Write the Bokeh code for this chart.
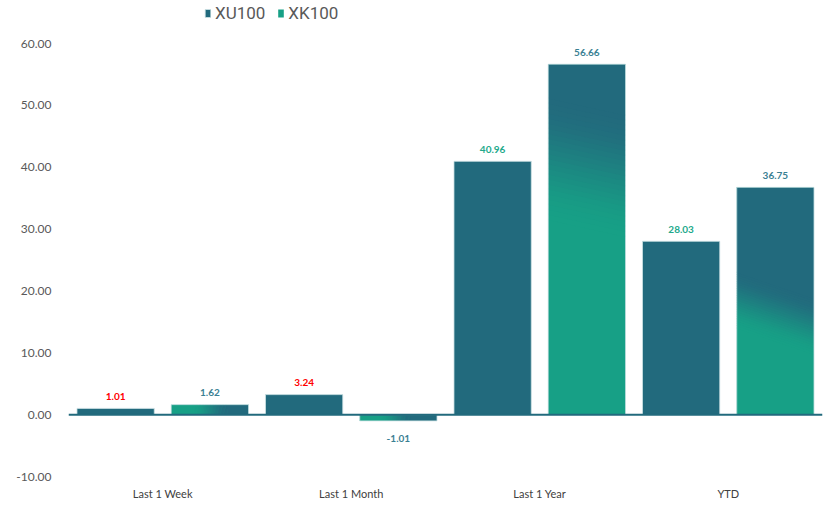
import numpy as np
from bokeh.plotting import figure
from bokeh.models import (Range1d, FixedTicker, Legend, LegendItem, Span,
                          ColumnDataSource, PrintfTickFormatter)
from bokeh.core.properties import value
from bokeh.embed import file_html
from bokeh.resources import INLINE

# ---------------- data ----------------
categories = ["Last 1 Week", "Last 1 Month", "Last 1 Year", "YTD"]
xu100 = [1.01, 3.24, 40.96, 28.03]
xk100 = [1.62, -1.01, 56.66, 36.75]
y_ticks = [-10, 0, 10, 20, 30, 40, 50, 60]
xu100_label_colors = ["#FF0000", "#FF0000", "#22A98B", "#22A98B"]
xk100_label_colors = ["#3A7F93", "#3A7F93", "#3A7F93", "#3A7F93"]

# styling: gradient start/end (fraction along bar diagonal) for XK100 bars
xk100_grad_stops = [(0.28, 0.72), (0.26, 0.66), (0.53, 0.86), (0.34, 0.56)]

DARK = (0x22, 0x6A, 0x7D)
GREEN = (0x17, 0xA0, 0x86)
DARK_HEX = "#%02x%02x%02x" % DARK
GREEN_HEX = "#%02x%02x%02x" % GREEN
EDGE = "#cfe3e6"

BAR_W = 0.41
OFF = 0.25

W, H = 836, 507
LEFT, RIGHT, TOP, BOTTOM = 68, 14, 0, 31
X0, X1 = 0, 4
Y0, Y1 = -10, 66.96
PX_X = (W - LEFT - RIGHT) / (X1 - X0)   # px per x unit
PX_Y = (H - TOP - BOTTOM) / (Y1 - Y0)   # px per y unit

centers = np.arange(len(categories)) + 0.5
x_xu = centers - OFF
x_xk = centers + OFF

p = figure(width=W, height=H, output_backend="svg", toolbar_location=None,
           x_range=Range1d(X0, X1), y_range=Range1d(Y0, Y1),
           min_border_left=LEFT, min_border_right=RIGHT, min_border_top=TOP,
           min_border_bottom=BOTTOM)
p.outline_line_color = None
p.xgrid.visible = False
p.ygrid.visible = False
p.background_fill_color = "white"
p.border_fill_color = "white"

# XU100 bars (solid)
src_xu = ColumnDataSource(dict(x=x_xu, top=xu100, cat=categories))
r_xu = p.vbar(x="x", top="top", bottom=0, width=BAR_W, source=src_xu,
              fill_color=DARK_HEX, line_color=EDGE, line_width=0.8)

# XK100 bars (base fill, gradient drawn on top)
src_xk = ColumnDataSource(dict(x=x_xk, top=xk100, cat=categories))
r_xk = p.vbar(x="x", top="top", bottom=0, width=BAR_W, source=src_xk,
              fill_color=GREEN_HEX, line_color=None)


def clip(poly, a, b, c):
    """Keep part of polygon where a*u + b*v <= c."""
    out = []
    n = len(poly)
    for i in range(n):
        P = poly[i]
        Q = poly[(i + 1) % n]
        fp = a * P[0] + b * P[1] - c
        fq = a * Q[0] + b * Q[1] - c
        if fp <= 0:
            out.append(P)
        if (fp < 0 < fq) or (fq < 0 < fp):
            t = fp / (fp - fq)
            out.append((P[0] + t * (Q[0] - P[0]), P[1] + t * (Q[1] - P[1])))
    return out


def grad_color(f):
    f = min(max(f, 0.0), 1.0)
    f = f * f * (3 - 2 * f)
    c = [round(GREEN[k] + (DARK[k] - GREEN[k]) * f) for k in range(3)]
    return "#%02x%02x%02x" % tuple(c)


# gradient along the bar's diagonal (bottom-left green -> top-right dark)
NB = 24
gxs, gys, gcols = [], [], []
for xc, val, (lo, hi) in zip(x_xk, xk100, xk100_grad_stops):
    x0 = xc - BAR_W / 2
    y0 = min(0.0, val)
    h = abs(val)
    wpx = BAR_W * PX_X
    hpx = h * PX_Y
    a, b = wpx * wpx, hpx * hpx
    tot = a + b
    edges = [0.0] + list(np.linspace(lo, hi, NB + 1)) + [1.0]
    for k in range(len(edges) - 1):
        t0, t1 = edges[k], edges[k + 1]
        sq = [(0, 0), (1, 0), (1, 1), (0, 1)]
        poly = clip(sq, -a, -b, -t0 * tot)
        ext = 0.004 if k < len(edges) - 2 else 0
        poly = clip(poly, a, b, (t1 + ext) * tot)
        if len(poly) < 3:
            continue
        gxs.append([x0 + u * BAR_W for u, v in poly])
        gys.append([y0 + v * h for u, v in poly])
        gcols.append(grad_color(((t0 + t1) / 2 - lo) / (hi - lo)))
p.patches(gxs, gys, fill_color=gcols, line_color=None)

# light outline on XK100 bars
p.vbar(x="x", top="top", bottom=0, width=BAR_W, source=src_xk,
       fill_color=None, line_color=EDGE, line_width=0.8)

# zero line
p.add_layout(Span(location=0, dimension="width", line_color=DARK_HEX,
                  line_width=2))

# data labels
lab_font = value("Lato")
xs_all = list(x_xu) + list(x_xk)
vals_all = xu100 + xk100
cols_all = xu100_label_colors + xk100_label_colors
pos = [i for i, v in enumerate(vals_all) if v >= 0]
neg = [i for i, v in enumerate(vals_all) if v < 0]
src_pos = ColumnDataSource(dict(x=[xs_all[i] for i in pos],
                                y=[vals_all[i] for i in pos],
                                t=["%.2f" % vals_all[i] for i in pos],
                                c=[cols_all[i] for i in pos]))
src_neg = ColumnDataSource(dict(x=[xs_all[i] for i in neg],
                                y=[vals_all[i] for i in neg],
                                t=["%.2f" % vals_all[i] for i in neg],
                                c=[cols_all[i] for i in neg]))
p.text(x="x", y="y", text="t", text_color="c", source=src_pos,
       text_align="center", text_baseline="middle", y_offset=-12,
       text_font=lab_font, text_font_style="bold", text_font_size="10px")
p.text(x="x", y="y", text="t", text_color="c", source=src_neg,
       text_align="center", text_baseline="middle", y_offset=18,
       text_font=lab_font, text_font_style="bold", text_font_size="10px")

# axes
p.yaxis.ticker = FixedTicker(ticks=y_ticks)
p.yaxis.formatter = PrintfTickFormatter(format="%.2f")
p.yaxis.axis_line_color = None
p.yaxis.major_tick_line_color = None
p.yaxis.minor_tick_line_color = None
p.yaxis.major_label_standoff = 11
p.yaxis.major_label_text_font = "Lato"
p.yaxis.major_label_text_font_size = "12px"
p.yaxis.major_label_text_color = "#595959"

p.xaxis.ticker = FixedTicker(ticks=list(centers))
p.xaxis.major_label_overrides = {float(c): lab for c, lab in zip(centers, categories)}
p.xaxis.axis_line_color = None
p.xaxis.major_tick_line_color = None
p.xaxis.minor_tick_line_color = None
p.xaxis.major_label_standoff = 4
p.xaxis.major_label_text_font = "Lato"
p.xaxis.major_label_text_font_size = "11px"
p.xaxis.major_label_text_color = "#404040"

legend = Legend(items=[LegendItem(label="XU100", renderers=[r_xu]),
                       LegendItem(label="XK100", renderers=[r_xk])],
                orientation="horizontal", location=(136, 453),
                label_text_font="Roboto",
                label_text_font_size="17px", label_text_color="#595959",
                glyph_width=7, glyph_height=10, label_standoff=4,
                spacing=12, padding=0, margin=0, label_height=20,
                border_line_color=None, background_fill_alpha=0)
p.add_layout(legend)

open("out.html", "w").write(file_html(p, INLINE))
